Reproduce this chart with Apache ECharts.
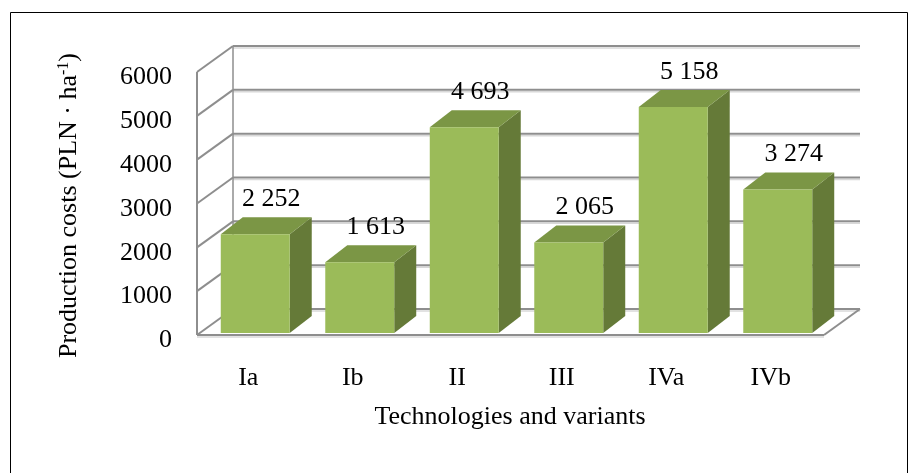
<!DOCTYPE html>
<html>
<head>
<meta charset="utf-8">
<script src="https://cdn.jsdelivr.net/npm/echarts@6/dist/echarts.min.js"></script>
<style>html,body{margin:0;padding:0;background:#fff}#c{width:913px;height:473px}</style>
</head>
<body>
<div id="c"></div>
<script>
const categories = ['Ia', 'Ib', 'II', 'III', 'IVa', 'IVb'];
const costs = [2252, 1613, 4693, 2065, 5158, 3274];
const yTicks = [0, 1000, 2000, 3000, 4000, 5000, 6000];
const yMax = 6000;

const FONT = '"Liberation Serif", "Times New Roman", serif';
const FS = 26;
const FRONT = { dx: -6, dy: 2 };    // front plane of the 3D box relative to bar plane
const BACK = { dx: 30, dy: -24 };   // back wall relative to bar plane
const BAR_DEPTH = { dx: 22, dy: -17 };
const COL_FRONT = '#9BBB59', COL_TOP = '#7B9645', COL_SIDE = '#657A38';
const GRID_COL = '#8E8E8E', GRID_SHADOW = '#D8D8D8';

function fmt(v) { return String(v).replace(/\B(?=(\d{3})+(?!\d))/g, ' '); }

function line(x1, y1, x2, y2, stroke, w) {
  return { type: 'line', shape: { x1, y1, x2, y2 }, style: { stroke, lineWidth: w }, silent: true };
}

function renderWall(params, api) {
  const cs = params.coordSys;
  const v = api.value(1);
  const y = api.coord([0, v])[1];
  const y0 = api.coord([0, 0])[1];
  const fL = cs.x + FRONT.dx, fR = cs.x + cs.width + FRONT.dx, fy = y + FRONT.dy;
  const bL = cs.x + BACK.dx, bR = cs.x + cs.width + BACK.dx, by = y + BACK.dy;
  const ch = [];
  ch.push(line(bL, by + 2, bR, by + 2, GRID_SHADOW, 1.5));
  ch.push(line(bL, by, bR, by, GRID_COL, 2));
  ch.push(line(fL, fy, bL, by, GRID_COL, 2));
  if (v === 0) {
    ch.push(line(fL, fy + 2, fR, fy + 2, GRID_SHADOW, 1.5));
    ch.push(line(fL, fy, fR, fy, GRID_COL, 2));
    ch.push(line(fR, fy, bR, by, GRID_COL, 2));
  }
  if (v === yMax) {
    ch.push(line(fL, fy, fL, y0 + FRONT.dy, GRID_COL, 2));
    ch.push(line(bL, by, bL, y0 + BACK.dy, GRID_COL, 1.5));
  }
  return { type: 'group', children: ch };
}

function renderBar(params, api) {
  const i = api.value(0), v = api.value(1);
  const top = api.coord([i, v]);
  const base = api.coord([i, 0]);
  const w = api.size([1, 0])[0] * 0.66;
  const x0 = top[0] - w / 2, x1 = top[0] + w / 2;
  const yt = top[1], yb = base[1];
  const dx = BAR_DEPTH.dx, dy = BAR_DEPTH.dy;
  return {
    type: 'group',
    children: [
      { type: 'polygon', shape: { points: [[x1, yt], [x1 + dx, yt + dy], [x1 + dx, yb + dy], [x1, yb]] }, style: { fill: COL_SIDE } },
      { type: 'polygon', shape: { points: [[x0, yt], [x1, yt], [x1 + dx, yt + dy], [x0 + dx, yt + dy]] }, style: { fill: COL_TOP } },
      { type: 'rect', shape: { x: x0, y: yt, width: w, height: yb - yt }, style: { fill: COL_FRONT } },
      { type: 'text', style: { text: fmt(v), x: top[0] + 16, y: yt + dy - 18, align: 'center', verticalAlign: 'middle', fill: '#000', font: FS + 'px ' + FONT } }
    ]
  };
}

const chart = echarts.init(document.getElementById('c'), null, { renderer: 'canvas' });
chart.setOption({
  animation: false,
  backgroundColor: '#fff',
  graphic: [{ type: 'rect', left: 8, top: 10, shape: { width: 897, height: 480 }, style: { fill: 'none', stroke: '#000', lineWidth: 1 }, silent: true }],
  grid: { left: 203, right: 83, top: 70, bottom: 140 },
  xAxis: {
    type: 'category', data: categories,
    axisLine: { show: false }, axisTick: { show: false },
    axisLabel: { margin: 32, padding: [0, 14, 0, 0], fontSize: FS, fontFamily: FONT, color: '#000' },
    name: 'Technologies and variants', nameLocation: 'middle', nameGap: 71,
    nameTextStyle: { fontSize: FS, fontFamily: FONT, color: '#000', padding: [0, 13, 0, 0] }
  },
  yAxis: {
    type: 'value', min: 0, max: yMax, interval: 1000,
    axisLine: { show: false }, axisTick: { show: false }, splitLine: { show: false },
    axisLabel: {
      margin: 31, verticalAlign: 'top', lineHeight: 15,
      fontSize: FS, fontFamily: FONT, color: '#000',
      formatter: v => String(v)
    },
    name: '{a|Production costs (PLN · ha}{s|-1}{a|)}', nameLocation: 'middle', nameGap: 120,
    nameTextStyle: {
      color: '#000', padding: [0, 8, 0, 0],
      rich: {
        a: { fontSize: FS, fontFamily: FONT, color: '#000' },
        s: { fontSize: 16, fontFamily: FONT, color: '#000', padding: [0, 0, 11, 0] }
      }
    }
  },
  series: [
    { type: 'custom', renderItem: renderWall, data: yTicks.map(v => [0, v]), encode: { x: 0, y: 1 }, z: 1, silent: true },
    { type: 'custom', renderItem: renderBar, data: costs.map((v, i) => [i, v]), encode: { x: 0, y: 1 }, z: 2 }
  ]
});
</script>
</body>
</html>
